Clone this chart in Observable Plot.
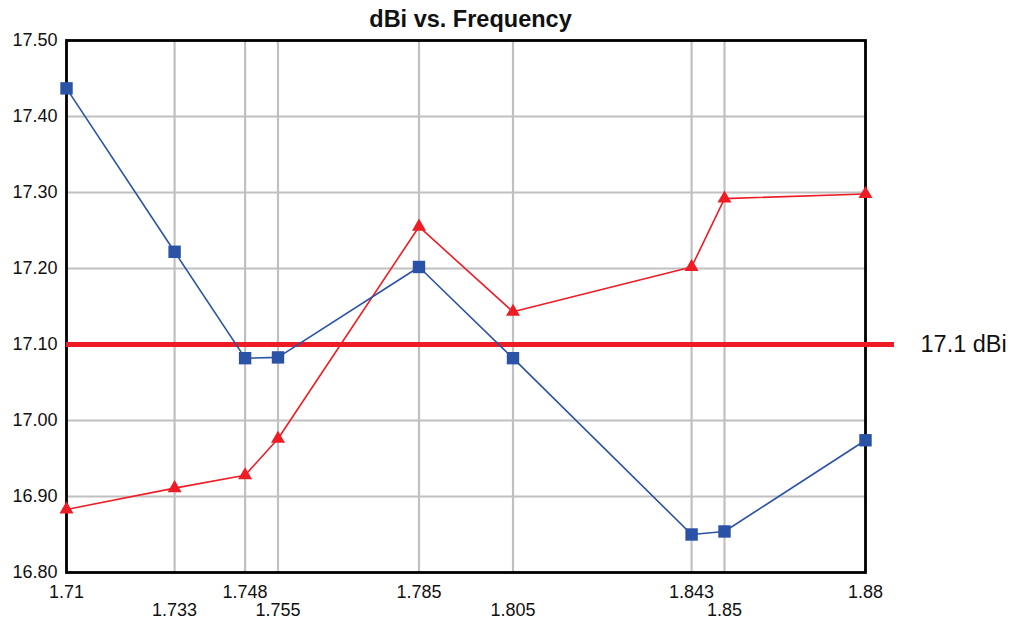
<!DOCTYPE html>
<html>
<head>
<meta charset="utf-8">
<script src="https://cdn.jsdelivr.net/npm/d3@7"></script>
<script src="https://cdn.jsdelivr.net/npm/@observablehq/plot@0.6"></script>
<style>
  html, body { margin: 0; padding: 0; background: #fff; }
  #chart svg { display: block; }
</style>
</head>
<body>
<div id="chart"></div>
<script>
const title = "dBi vs. Frequency";
const freq = [1.71, 1.733, 1.748, 1.755, 1.785, 1.805, 1.843, 1.85, 1.88];
const blueDbi = [17.437, 17.222, 17.082, 17.083, 17.202, 17.082, 16.850, 16.854, 16.974];
const redDbi  = [16.883, 16.911, 16.928, 16.976, 17.255, 17.143, 17.202, 17.292, 17.298];
const yTicks = [16.8, 16.9, 17.0, 17.1, 17.2, 17.3, 17.4, 17.5];
const xTicksRow1 = [1.71, 1.748, 1.785, 1.843, 1.88];
const xTicksRow2 = [1.733, 1.755, 1.805, 1.85];
const refLevel = 17.1;
const refLabel = "17.1 dBi";

const blueData = freq.map((f, i) => ({f, v: blueDbi[i]}));
const redData = freq.map((f, i) => ({f, v: redDbi[i]}));

const blue = "#2a52a6";
const red = "#ee1c24";
const grid = "#c0c0c0";

const chart = Plot.plot({
  width: 1016,
  height: 622,
  marginLeft: 66,
  marginRight: 151,
  marginTop: 40,
  marginBottom: 50,
  style: {fontFamily: "'Liberation Sans', Arial, sans-serif", fontSize: "18px", color: "#111"},
  x: {domain: [1.71, 1.88]},
  y: {domain: [16.8, 17.5]},
  marks: [
    Plot.ruleY(yTicks, {stroke: grid, strokeWidth: 2}),
    Plot.ruleX(freq, {stroke: grid, strokeWidth: 2.2}),
    Plot.frame({stroke: "#000", strokeWidth: 2.8}),
    Plot.axisY(yTicks, {tickSize: 0, tickPadding: 9, tickFormat: d => d.toFixed(2), label: null, fontSize: 18}),
    Plot.axisX(xTicksRow1, {tickSize: 0, tickPadding: 13, tickFormat: d => String(d), label: null, fontSize: 18}),
    Plot.axisX(xTicksRow2, {tickSize: 0, tickPadding: 31, tickFormat: d => String(d), label: null, fontSize: 18}),
    Plot.ruleY([refLevel], {stroke: red, strokeWidth: 5, insetRight: -29}),
    Plot.text([{v: refLevel, label: refLabel}], {y: "v", text: "label", frameAnchor: "right", dx: 55, textAnchor: "start", fontSize: 23.5, fill: "#111"}),
    Plot.line(redData, {x: "f", y: "v", stroke: red, strokeWidth: 1.6}),
    Plot.dot(redData, {x: "f", y: "v", symbol: "triangle", r: 5.2, fill: red, stroke: "none"}),
    Plot.line(blueData, {x: "f", y: "v", stroke: blue, strokeWidth: 1.6}),
    Plot.dot(blueData, {x: "f", y: "v", symbol: "square", r: 7, fill: blue, stroke: "none"}),
    Plot.text([title], {frameAnchor: "top", dy: -30, dx: 4.5, fontSize: 23.5, fontWeight: "bold", fill: "#111"})
  ]
});
document.getElementById("chart").appendChild(chart);
</script>
</body>
</html>
